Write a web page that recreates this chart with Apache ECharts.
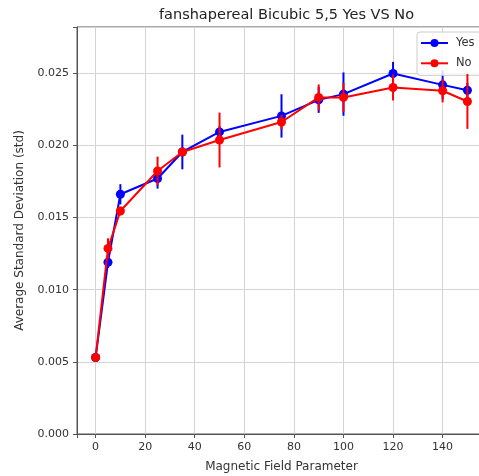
<!DOCTYPE html>
<html><head><meta charset="utf-8">
<script src="https://cdn.jsdelivr.net/npm/echarts@6/dist/echarts.min.js"></script>
<style>html,body{margin:0;padding:0;background:#fff}#c{width:479px;height:476px}</style>
</head><body><div id="c"></div>
<script>
const titleText = 'fanshapereal Bicubic 5,5 Yes VS No';
const xLabel = 'Magnetic Field Parameter';
const yLabel = 'Average Standard Deviation (std)';
const xValues = [0, 5, 10, 25, 35, 50, 75, 90, 100, 120, 140, 150];
const yesMean = [0.0053, 0.0119, 0.01661, 0.01770, 0.01954, 0.02093, 0.02204, 0.02315, 0.02355, 0.02498, 0.02419, 0.02382];
const yesErr  = [0.0001, 0.0004, 0.0007, 0.0007, 0.0012, 0.0004, 0.0015, 0.0009, 0.0015, 0.0008, 0.0010, 0.0005];
const noMean  = [0.0053, 0.01286, 0.01545, 0.01822, 0.01954, 0.02037, 0.02162, 0.02332, 0.02332, 0.02401, 0.02378, 0.02304];
const noErr   = [0.0001, 0.0007, 0.0003, 0.0010, 0.0003, 0.0019, 0.0005, 0.0009, 0.0010, 0.0009, 0.0008, 0.0019];
const yTickStep = 0.005;
const xTickStep = 20;

const FONT = 'DejaVu Sans';
const BLUE = '#0000ff', RED = '#ff0000';

function errRender(color) {
  return function (params, api) {
    const x = api.value(0), lo = api.value(1), hi = api.value(2);
    const p1 = api.coord([x, lo]), p2 = api.coord([x, hi]);
    return { type: 'line', shape: { x1: p1[0], y1: p1[1], x2: p2[0], y2: p2[1] },
      style: { stroke: color, lineWidth: 2 } };
  };
}
const pairs = (m) => xValues.map((x, i) => [x, m[i]]);
const errs = (m, e) => xValues.map((x, i) => [x, m[i] - e[i], m[i] + e[i]]);

const chart = echarts.init(document.getElementById('c'), null, { renderer: 'canvas' });
chart.setOption({
  animation: false,
  backgroundColor: '#fff',
  textStyle: { fontFamily: FONT },
  title: { text: titleText, left: 281.5, textAlign: 'center', top: 3,
    textStyle: { fontFamily: FONT, fontSize: 14.5, fontWeight: 'normal', color: '#222' } },
  grid: { left: 77, top: 27, width: 409, height: 407, show: true, borderColor: '#555', borderWidth: 1,
    backgroundColor: 'transparent', outerBoundsMode: 'none', containLabel: false },
  legend: {
    data: ['Yes', 'No'], orient: 'vertical', left: 417, top: 32,
    itemWidth: 27, itemHeight: 10, itemGap: 8.3,
    padding: [5, 14, 6, 3],
    backgroundColor: 'rgba(255,255,255,0.85)', borderColor: '#ccc', borderWidth: 1, borderRadius: 3,
    textStyle: { fontFamily: FONT, fontSize: 11.5, color: '#333', padding: [0, 0, 0, 3] }
  },
  xAxis: {
    type: 'value', min: -7.5, max: 157.5, splitNumber: 8, minInterval: xTickStep, maxInterval: xTickStep,
    name: xLabel, nameLocation: 'middle', nameGap: 27,
    nameTextStyle: { fontFamily: FONT, fontSize: 12, color: '#333' },
    axisLine: { onZero: false, lineStyle: { color: '#555', width: 1 } },
    axisTick: { show: true, inside: false, length: 4, lineStyle: { color: '#555' } },
    axisLabel: { margin: 8, fontFamily: FONT, fontSize: 11, color: '#333',
      formatter: v => (Math.abs(v % xTickStep) < 1e-9 ? String(v) : '') },
    splitLine: { show: true, lineStyle: { color: '#d3d3d3', width: 1 } }
  },
  yAxis: {
    type: 'value', min: 0, max: 0.0282, interval: yTickStep,
    name: yLabel, nameLocation: 'middle', nameGap: 51,
    nameTextStyle: { fontFamily: FONT, fontSize: 12, color: '#333' },
    axisLine: { show: true, onZero: false, lineStyle: { color: '#555', width: 1 } },
    axisTick: { show: true, inside: false, length: 4, lineStyle: { color: '#555' } },
    axisLabel: { margin: 8, fontFamily: FONT, fontSize: 11, color: '#333',
      formatter: v => { const r = v / yTickStep; return Math.abs(r - Math.round(r)) < 1e-6 ? v.toFixed(3) : ''; } },
    splitLine: { show: true, lineStyle: { color: '#d3d3d3', width: 1 } }
  },
  series: [
    { name: 'Yes err', type: 'custom', renderItem: errRender(BLUE), data: errs(yesMean, yesErr),
      encode: { x: 0, y: [1, 2] }, z: 2, silent: true },
    { name: 'Yes', type: 'line', data: pairs(yesMean), color: BLUE, z: 3,
      symbol: 'circle', symbolSize: 9, showAllSymbol: true,
      lineStyle: { color: BLUE, width: 2 }, itemStyle: { color: BLUE } },
    { name: 'No err', type: 'custom', renderItem: errRender(RED), data: errs(noMean, noErr),
      encode: { x: 0, y: [1, 2] }, z: 4, silent: true },
    { name: 'No', type: 'line', data: pairs(noMean), color: RED, z: 5,
      symbol: 'circle', symbolSize: 9, showAllSymbol: true,
      lineStyle: { color: RED, width: 2 }, itemStyle: { color: RED } }
  ]
});
</script>
</body></html>
